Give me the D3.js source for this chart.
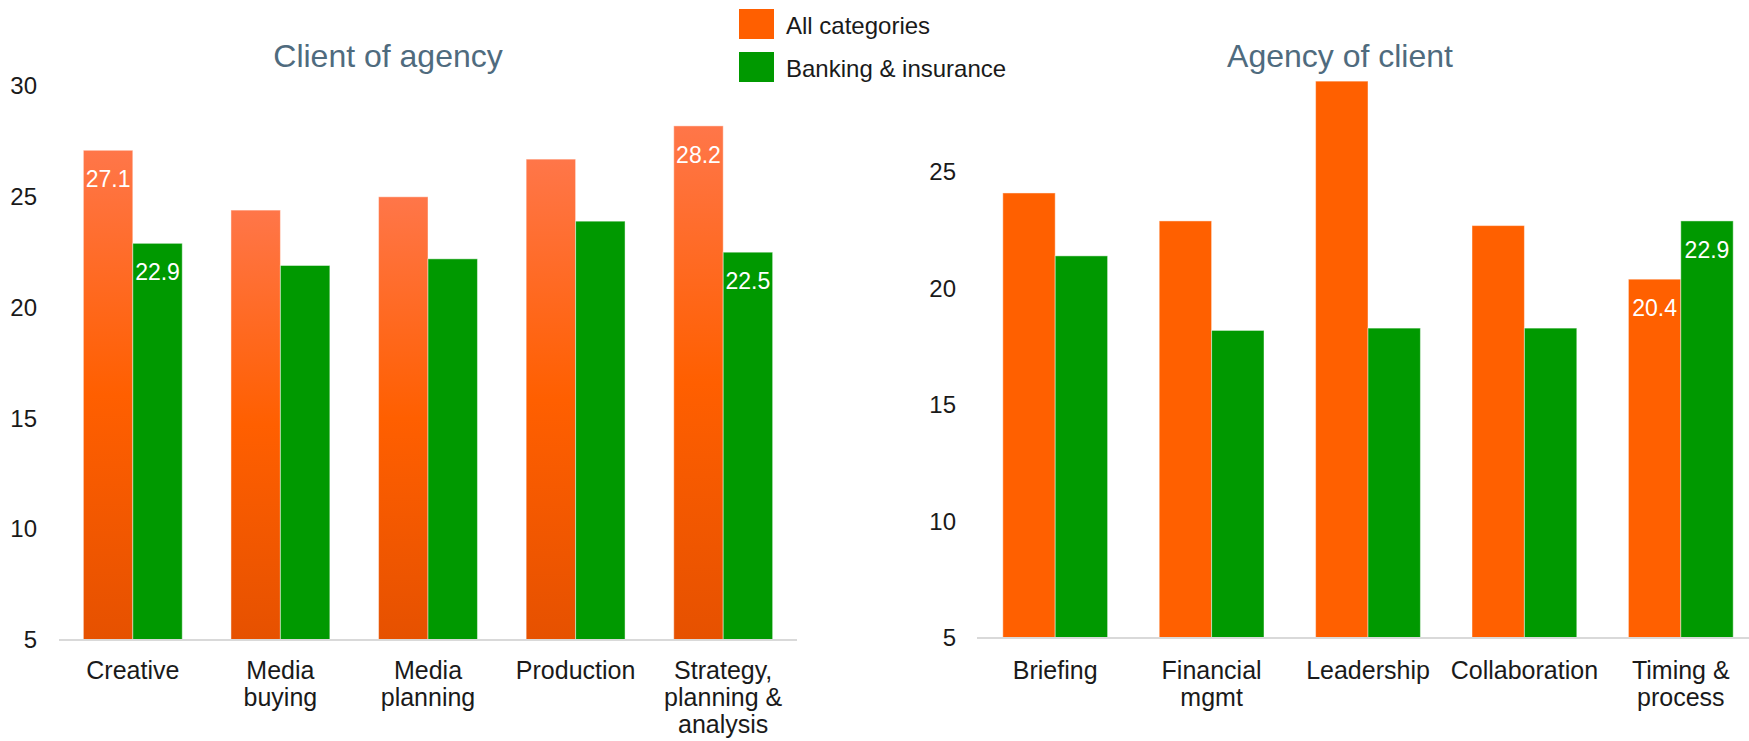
<!DOCTYPE html>
<html>
<head>
<meta charset="utf-8">
<script src="https://cdn.jsdelivr.net/npm/d3@7"></script>
<style>
  body { margin: 0; background: #fff; }
  svg { display: block; font-family: "Liberation Sans", Arial, sans-serif; }
</style>
</head>
<body>
<svg id="chart" width="1749" height="741"></svg>
<script>
// data
const seriesNames = ["All categories", "Banking & insurance"];

const leftTitle = "Client of agency";
const leftCategories = ["Creative", "Media\nbuying", "Media\nplanning", "Production", "Strategy,\nplanning &\nanalysis"];
const leftAll = [27.1, 24.4, 25.0, 26.7, 28.2];
const leftBank = [22.9, 21.9, 22.2, 23.9, 22.5];
const leftTicks = [5, 10, 15, 20, 25, 30];
const leftShown = [[0, 0], [0, 1], [4, 0], [4, 1]];   // [category, series] with a value label

const rightTitle = "Agency of client";
const rightCategories = ["Briefing", "Financial\nmgmt", "Leadership", "Collaboration", "Timing &\nprocess"];
const rightAll = [24.1, 22.9, 28.9, 22.7, 20.4];
const rightBank = [21.4, 18.2, 18.3, 18.3, 22.9];
const rightTicks = [5, 10, 15, 20, 25];
const rightShown = [[4, 0], [4, 1]];

const svg = d3.select("#chart");
const defs = svg.append("defs");

// shaded orange on the left panel
let grad = defs.append("linearGradient")
    .attr("id", "orangeGrad")
    .attr("x1", 0).attr("y1", 0).attr("x2", 0).attr("y2", 1);
grad.append("stop").attr("offset", "0%").attr("stop-color", "#ff7649");
grad.append("stop").attr("offset", "50%").attr("stop-color", "#ff5f00");
grad.append("stop").attr("offset", "100%").attr("stop-color", "#e65100");

function drawPanel(opt) {
    let g = svg.append("g");

    let x0 = d3.scaleBand()
        .domain(opt.categories)
        .range([opt.x0, opt.x1])
        .paddingInner(0.33)
        .paddingOuter(0.165);

    let x1 = d3.scaleBand()
        .domain([0, 1])
        .range([0, x0.bandwidth()]);

    let y = d3.scaleLinear()
        .domain(opt.domain)
        .range([opt.yBase, opt.yTop]);

    // y axis, labels only
    let yAxis = g.append("g")
        .attr("transform", `translate(${opt.yLabelX},0)`)
        .call(d3.axisLeft(y).tickValues(opt.ticks).tickSize(0).tickPadding(0));
    yAxis.select(".domain").remove();
    yAxis.selectAll("text")
        .attr("font-family", "Liberation Sans, Arial, sans-serif")
        .attr("font-size", 24)
        .attr("fill", "#1a1a1a");

    let rows = opt.categories.map((c, i) => ({cat: c, vals: [opt.all[i], opt.bank[i]]}));

    let groups = g.selectAll(".grp")
        .data(rows)
        .enter()
        .append("g")
        .attr("transform", d => `translate(${x0(d.cat)},0)`);

    groups.selectAll("rect")
        .data(d => d.vals.map((v, k) => ({k: k, v: v})))
        .enter()
        .append("rect")
        .attr("x", d => x1(d.k))
        .attr("y", d => y(d.v))
        .attr("width", x1.bandwidth())
        .attr("height", d => opt.yBase - y(d.v))
        .attr("fill", d => d.k === 0 ? opt.orange : "#009900")
        .attr("stroke", "rgba(255,255,255,0.45)")
        .attr("stroke-width", 1);

    // value labels inside the top of the bar
    opt.shown.forEach(([i, k]) => {
        let v = rows[i].vals[k];
        g.append("text")
            .attr("x", x0(rows[i].cat) + x1(k) + x1.bandwidth() / 2)
            .attr("y", y(v) + 37)
            .attr("text-anchor", "middle")
            .attr("font-size", 23)
            .attr("fill", "#fff")
            .text(v.toFixed(1));
    });

    // x axis
    let xAxis = g.append("g")
        .attr("transform", `translate(0,${opt.yBase})`)
        .call(d3.axisBottom(x0).tickSize(0).tickFormat(""));
    xAxis.select(".domain")
        .attr("d", `M${opt.axisX0},0H${opt.axisX1}`)
        .attr("stroke", "#d9d9d9")
        .attr("stroke-width", 2);

    opt.categories.forEach(c => {
        let t = g.append("text")
            .attr("x", x0(c) + x0.bandwidth() / 2)
            .attr("y", 679)
            .attr("text-anchor", "middle")
            .attr("font-size", 25)
            .attr("fill", "#1a1a1a");
        c.split("\n").forEach((line, j) => {
            t.append("tspan")
                .attr("x", x0(c) + x0.bandwidth() / 2)
                .attr("dy", j === 0 ? 0 : 27)
                .text(line);
        });
    });

    g.append("text")
        .attr("x", opt.titleX)
        .attr("y", 67)
        .attr("text-anchor", "middle")
        .attr("font-size", 32)
        .attr("fill", "#4f6b7e")
        .text(opt.title);
}

drawPanel({
    title: leftTitle, titleX: 388,
    categories: leftCategories, all: leftAll, bank: leftBank,
    ticks: leftTicks, shown: leftShown,
    x0: 59, x1: 797, axisX0: 59, axisX1: 797,
    domain: [5, 30], yBase: 640, yTop: 86, yLabelX: 37,
    orange: "url(#orangeGrad)"
});

drawPanel({
    title: rightTitle, titleX: 1340,
    categories: rightCategories, all: rightAll, bank: rightBank,
    ticks: rightTicks, shown: rightShown,
    x0: 977, x1: 1759, axisX0: 977, axisX1: 1759,
    domain: [5, 29], yBase: 638, yTop: 638 - 24 * 23.3, yLabelX: 956,
    orange: "#ff6000"
});

// legend
let legend = svg.append("g");
let legendColors = ["#ff5f00", "#009900"];
seriesNames.forEach((name, i) => {
    legend.append("rect")
        .attr("x", 739).attr("y", 9 + i * 43)
        .attr("width", 35).attr("height", 30)
        .attr("fill", legendColors[i]);
    legend.append("text")
        .attr("x", 786).attr("y", 34 + i * 43)
        .attr("font-size", 24)
        .attr("fill", "#1a1a1a")
        .text(name);
});
</script>
</body>
</html>
